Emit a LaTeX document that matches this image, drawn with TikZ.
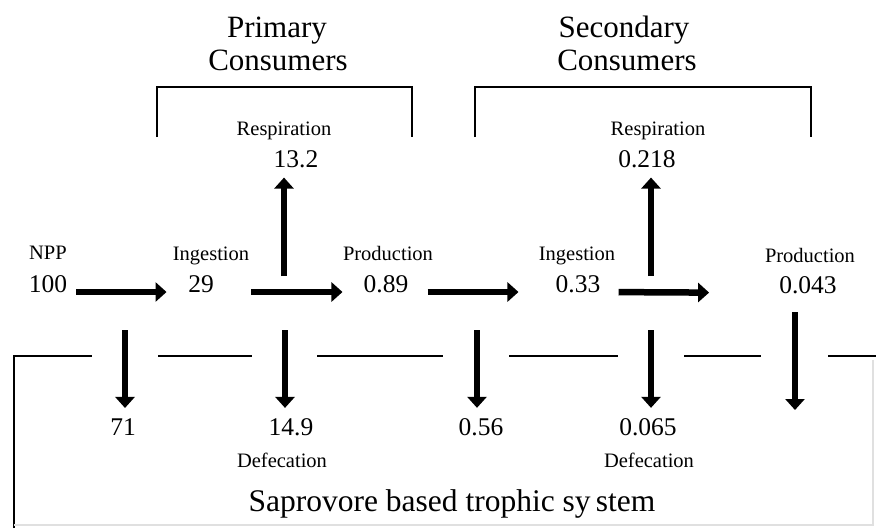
\documentclass[tikz,border=0pt]{standalone}
\usepackage{fontspec}
\setmainfont{Liberation Serif}
\usetikzlibrary{arrows.meta}
\begin{document}
\begin{tikzpicture}[x=1pt,y=-1pt,
  title/.style={font=\fontsize{31}{33}\selectfont, align=center, inner sep=0pt, anchor=base},
  num/.style={font=\fontsize{25.5}{28}\selectfont, inner sep=0pt, anchor=base},
  lab/.style={font=\fontsize{20.5}{22}\selectfont, inner sep=0pt, anchor=base},
  flow/.style={line width=6.5pt, -{Triangle[length=11pt,width=19pt]}},
  brk/.style={line width=2.8pt},
  sep/.style={line width=2.6pt}]
\useasboundingbox (0,0) rectangle (876,528);
% titles
\node[title] (prim1) at (277,37) {Primary};
\node[title] (prim2) at (278,70) {Consumers};
\node[title] (sec1) at (624,37) {Secondary};
\node[title] (sec2) at (627,70) {Consumers};
\draw[brk] (157,137) -- (157,87) -- (412,87) -- (412,137);
\draw[brk] (475,137) -- (475,87) -- (811,87) -- (811,137);
% respiration
\node[lab] (resp1) at (284,135) {Respiration};
\node[num] (r132) at (296,167) {13.2};
\node[lab] (resp2) at (658,135) {Respiration};
\node[num] (r218) at (647,167) {0.218};
% main row
\node[lab] (npp) at (48,259) {NPP};
\node[num] (n100) at (48,292) {100};
\node[lab] (ing1) at (211,260) {Ingestion};
\node[num] (n29) at (201,292) {29};
\node[lab] (prod1) at (388,260) {Production};
\node[num] (n089) at (386,292) {0.89};
\node[lab] (ing2) at (577,260) {Ingestion};
\node[num] (n033) at (578,292) {0.33};
\node[lab] (prod2) at (810,262) {Production};
\node[num] (n043) at (808,293) {0.043};
% horizontal flows
\draw[flow, shorten <=9pt, shorten >=21.5pt] (n100.base east) -- (n29.base west);
\draw[flow, shorten <=37.5pt, shorten >=21pt] (n29.base east) -- (n089.base west);
\draw[flow, shorten <=19pt, shorten >=37pt] (n089.base east) -- (n033.base west);
\draw[flow, shorten <=18pt, shorten >=70pt] (n033.base east) -- (n043.base west);
% upward flows
\coordinate (u1) at (284,276);
\coordinate (u2) at (651,276);
\draw[flow, shorten >=10pt] (u1) -- (u1 |- r132.south);
\draw[flow, shorten >=10pt] (u2) -- (u2 |- r218.south);
% separator
\draw[sep] (14,528) -- (14,356) -- (92,356);
\draw[sep] (158,356) -- (252,356);
\draw[sep] (317,356) -- (443,356);
\draw[sep] (509,356) -- (618,356);
\draw[sep] (684,356) -- (761,356);
\draw[sep] (828,356) -- (876,356);
\draw[black!12, line width=1.2pt] (873,360) -- (873,525) -- (14,525);
% lower values
\node[num] (n71) at (123,435) {71};
\node[num] (n149) at (291,435) {14.9};
\node[lab] (def1) at (282,467) {Defecation};
\node[num] (n056) at (481,435) {0.56};
\node[num] (n065) at (648,435) {0.065};
\node[lab] (def2) at (649,467) {Defecation};
% downward flows
\coordinate (d1) at (125,330);
\coordinate (d2) at (285,330);
\coordinate (d3) at (477,330);
\coordinate (d4) at (651,330);
\coordinate (d5) at (795,312);
\coordinate (d5e) at (795,410);
\draw[flow, shorten >=10pt] (d1) -- (d1 |- n71.north);
\draw[flow, shorten >=10pt] (d2) -- (d2 |- n149.north);
\draw[flow, shorten >=10pt] (d3) -- (d3 |- n056.north);
\draw[flow, shorten >=10pt] (d4) -- (d4 |- n065.north);
\draw[flow] (d5) -- (d5e);
% system label
\node[font=\fontsize{31.5}{34}\selectfont, inner sep=0pt, anchor=base] (sap) at (452,511) {Saprovore based trophic sy\,stem};
\end{tikzpicture}
\end{document}
